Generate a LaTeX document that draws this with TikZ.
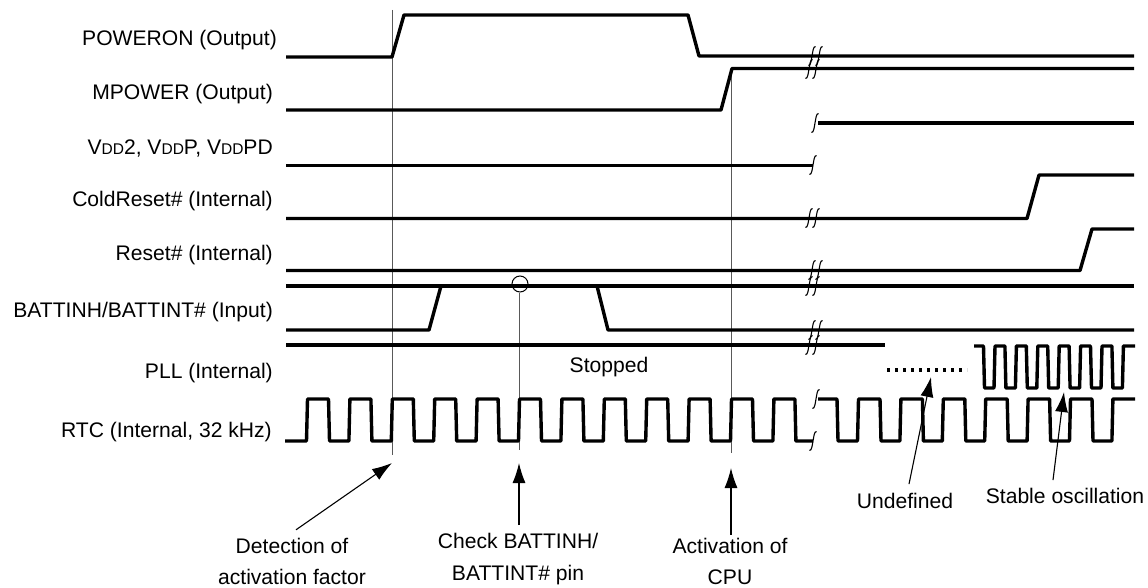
\documentclass[tikz,border=0pt]{standalone}
\usepackage{fontspec}
\setmainfont{Liberation Sans}
\usetikzlibrary{arrows.meta}
\tikzset{
  sig/.style={line width=3.4pt, line join=round},
  guide/.style={line width=1pt, black!65},
  pointer/.style={line width=1.1pt, -{Latex[length=20pt,width=13pt]}},
  lbl/.style={inner sep=0pt, align=center},
  namelbl/.style={anchor=east, inner sep=0pt},
  brk/.pic={\draw[line width=1.1pt] (-3.6,9.5) .. controls (-1.2,10) and (-0.8,4) .. (0,0) .. controls (0.8,-4) and (1.2,-10) .. (3.6,-9.5);}
}
\newcommand{\smallcap}[1]{{\fontsize{15.5}{18}\selectfont #1}}
\begin{document}
\begin{tikzpicture}[x=1pt, y=-1pt, font=\fontsize{21.1}{31.5}\selectfont]
\useasboundingbox (0,0) rectangle (1148,588);

% signal names
\node[namelbl] (nPoweron) at (277,40) {POWERON (Output)};
\node[namelbl] (nMpower) at (273,94) {MPOWER (Output)};
\node[namelbl] (nVdd) at (273,148) {V\smallcap{DD}2, V\smallcap{DD}P, V\smallcap{DD}PD};
\node[namelbl] (nCold) at (273,201) {ColdReset\# (Internal)};
\node[namelbl] (nReset) at (273,255) {Reset\# (Internal)};
\node[namelbl] (nBatt) at (273,312) {BATTINH/BATTINT\# (Input)};
\node[namelbl] (nPll) at (273,373) {PLL (Internal)};
\node[namelbl] (nRtc) at (272,432) {RTC (Internal, 32 kHz)};

% guide lines
\coordinate (gA1) at (392,10);
\coordinate (gA2) at (392,455);
\coordinate (gC1) at (731,68);
\coordinate (gC2) at (731,453);
\coordinate (gB2) at (519,450);
\node[draw, circle, line width=1pt, minimum size=16pt, inner sep=0pt] (chkMark) at (520,284) {};
\draw[guide] (gA1) -- (gA2);
\draw[guide] (chkMark.south -| gB2) -- (gB2);
\draw[guide] (gC1) -- (gC2);

% levels
\draw[sig] (286,57) -- (392,57) -- (404,15) -- (688,15) -- (699,56) -- (1134,56);
\draw[sig] (286,110) -- (721,110) -- (732,68.5) -- (1134,68.5);
\draw[sig] (286,165.5) -- (813,165.5);
\draw[sig] (818,123) -- (1134,123);
\draw[sig] (286,218.5) -- (1027,218.5) -- (1039,175) -- (1134,175);
\draw[sig] (286,270.5) -- (1080,270.5) -- (1092,229) -- (1134,229);
\draw[sig] (286,286) -- (1134,286);
\draw[sig] (286,330) -- (429,330) -- (441,286);
\draw[sig] (597,286) -- (608,330) -- (1134,330);
\draw[sig] (286,345) -- (885,345);
\draw[sig, dash pattern=on 3.3pt off 4.7pt] (887,370) -- (967,370);
\node[lbl] (stopped) at (609,367) {Stopped};

% PLL clock
\draw[sig] (974,346) \foreach \k in {0,...,6} {
    -- ({983.5+21.4*\k},346) -- ({984.5+21.4*\k},388)
    -- ({994+21.4*\k},388) -- ({995+21.4*\k},346)}
    -- (1135,346);

% RTC clock
\draw[sig] (285,441) \foreach \k in {0,...,11} {
    -- ({306.5+42.4*\k},441) -- ({307.5+42.4*\k},399)
    -- ({328.5+42.4*\k},399) -- ({329.5+42.4*\k},441)}
    -- (813,441);
\draw[sig] (818,399) -- (837,399) -- (838,441) \foreach \k in {0,...,6} {
    -- ({857.5+42.4*\k},441) -- ({858.5+42.4*\k},399)
    \ifnum\k<6 -- ({880+42.4*\k},399) -- ({881+42.4*\k},441)\fi}
    -- (1135,399);

% break marks
\foreach \x/\y in {812/56,819/56,809/69,816/69,815/123,813/165,809/218,816/218,
    812/270,819/270,809/286,816/286,812/330,819/330,809/345,816/345,816/399,813/441}
  \pic at (\x,\y) {brk};

% callouts
\node[lbl] (detect) at (292,561.5) {Detection of\\activation factor};
\node[lbl] (chkPin) at (518,559) {Check BATTINH/\\BATTINT\# pin};
\node[lbl] (cpuOn) at (730,561.5) {Activation of\\CPU};
\node[lbl] (undef) at (905,501) {Undefined};
\node[lbl] (stable) at (1065,496) {Stable oscillation};
\coordinate (detectTip) at (392,463);
\coordinate (chkTip) at (519,463);
\coordinate (cpuTip) at (731,468);
\coordinate (undefTip) at (931,377);
\coordinate (stableTip) at (1064,392);
\draw[pointer] (detect.north) ++(4,-8) coordinate (detectTail) (detectTail) -- (detectTip);
\draw[pointer] (chkPin.north) ++(1,-8) coordinate (chkTail) (chkTail) -- (chkTip);
\draw[pointer] (cpuOn.north) ++(1,-3) coordinate (cpuTail) (cpuTail) -- (cpuTip);
\draw[pointer] (undef.north) ++(4,-9) coordinate (undefTail) (undefTail) -- (undefTip);
\draw[pointer] (stable.north) ++(-12,-8) coordinate (stableTail) (stableTail) -- (stableTip);
\end{tikzpicture}
\end{document}
